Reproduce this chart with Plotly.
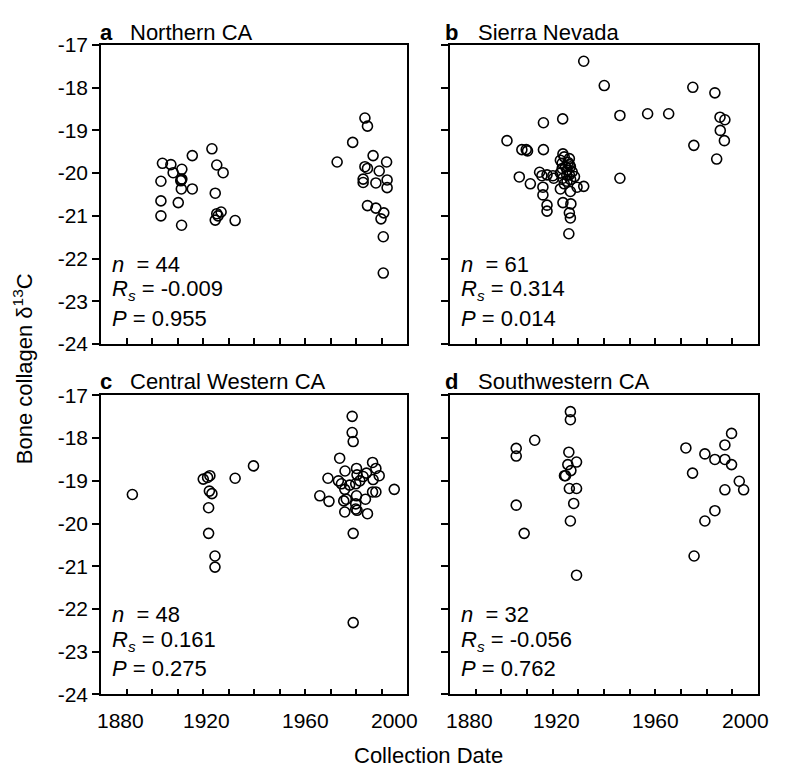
import plotly.graph_objects as go

# ---------------- data ----------------
years_a = [1904.1, 1907.4, 1908.3, 1911.7, 1911.7, 1911.3, 1911.5, 1915.8, 1915.8, 1903.5,
           1903.5, 1910.3, 1903.5, 1911.6, 1923.5, 1925.4, 1927.9, 1924.8, 1924.8, 1927.1,
           1925.4, 1932.6, 1911.4, 1925.9,
           1983.5, 1984.5, 1978.7, 1972.6, 1986.7, 1992.0, 1983.5, 1984.5, 1989.1, 1982.8,
           1982.8, 1987.8, 1992.2, 1992.2, 1984.5, 1987.8, 1990.9, 1989.8, 1990.7, 1990.7]
d13c_a = [-19.77, -19.80, -19.99, -19.91, -20.14, -20.18, -20.37, -19.59, -20.37, -20.19,
          -20.65, -20.69, -21.00, -21.22, -19.43, -19.81, -19.99, -20.47, -21.10, -20.91,
          -20.95, -21.11, -20.16, -21.00,
          -18.71, -18.90, -19.28, -19.74, -19.59, -19.74, -19.85, -19.89, -19.95, -20.14,
          -20.22, -20.23, -20.16, -20.34, -20.76, -20.82, -20.93, -21.07, -21.49, -22.34]

years_b = [1932.1, 1940.1, 1946.2, 1957.0, 1965.2, 1974.6, 1983.2, 1985.2, 1987.1, 1985.3,
           1986.9, 1975.0, 1983.9, 1946.2, 1902.2, 1916.4, 1923.9, 1908.0, 1909.7, 1910.2,
           1916.4, 1907.0, 1911.3, 1914.9, 1915.8, 1917.8, 1920.1, 1920.4, 1916.2, 1916.2,
           1917.8, 1917.8,
           1924.0, 1926.5, 1923.0, 1923.7, 1926.5, 1926.9, 1923.7, 1925.6, 1927.6, 1923.0,
           1926.5, 1928.5, 1924.0, 1925.6, 1929.5, 1932.1, 1923.0, 1926.9, 1924.0, 1927.1,
           1926.5, 1926.9, 1926.3, 1924.5, 1926.0, 1925.0, 1927.0, 1924.5, 1925.5]
d13c_b = [-17.38, -17.95, -18.65, -18.61, -18.61, -17.99, -18.12, -18.69, -18.75, -19.00,
          -19.24, -19.35, -19.67, -20.12, -19.24, -18.82, -18.73, -19.45, -19.45, -19.48,
          -19.45, -20.09, -20.25, -19.98, -20.06, -20.04, -20.06, -20.12, -20.33, -20.51,
          -20.75, -20.89,
          -19.55, -19.66, -19.70, -19.77, -19.80, -19.85, -19.89, -19.93, -19.97, -20.00,
          -20.04, -20.08, -20.12, -20.19, -20.33, -20.31, -20.37, -20.43, -20.69, -20.72,
          -20.93, -21.05, -21.42, -19.62, -19.75, -19.85, -20.15, -20.25, -20.05]

years_c = [1892.3, 1920.1, 1921.8, 1922.7, 1922.5, 1923.5, 1922.2, 1922.2, 1924.7, 1924.7,
           1932.6, 1939.8,
           1978.5, 1978.5, 1978.9, 1973.6, 1969.0, 1965.8, 1969.4, 1975.7, 1980.2, 1984.1,
           1986.5, 1987.8, 1989.1, 1986.7, 1973.1, 1974.3, 1975.6, 1979.9, 1982.8, 1980.4,
           1986.5, 1987.8, 1975.2, 1976.2, 1980.2, 1983.7, 1979.9, 1975.6, 1979.9, 1980.4,
           1984.5, 1995.0, 1978.9, 1978.9, 1977.5, 1981.5]
d13c_c = [-19.32, -18.96, -18.92, -18.88, -19.24, -19.30, -19.63, -20.23, -20.76, -21.02,
          -18.94, -18.65,
          -17.49, -17.87, -18.08, -18.47, -18.94, -19.35, -19.48, -18.77, -18.71, -18.82,
          -18.57, -18.71, -18.88, -18.97, -19.00, -19.07, -19.20, -19.07, -18.90, -18.86,
          -19.26, -19.26, -19.47, -19.43, -19.35, -19.43, -19.54, -19.73, -19.66, -19.69,
          -19.77, -19.20, -20.23, -22.32, -19.10, -19.00]

years_d = [1905.8, 1905.8, 1913.0, 1905.8, 1908.9,
           1926.9, 1926.9, 1926.3, 1925.9, 1929.3, 1927.1, 1925.0, 1924.6, 1926.5, 1929.3,
           1928.2, 1926.9, 1929.3,
           1971.9, 1979.3, 1983.2, 1987.1, 1987.1, 1989.7, 1989.7, 1974.5, 1992.7, 1994.4,
           1987.1, 1983.2, 1979.3, 1975.1]
d13c_d = [-18.24, -18.42, -18.05, -19.57, -20.23,
          -17.38, -17.57, -18.33, -18.62, -18.56, -18.76, -18.88, -18.88, -19.18, -19.18,
          -19.53, -19.94, -21.21,
          -18.23, -18.37, -18.50, -18.50, -18.16, -17.89, -18.62, -18.82, -19.01, -19.21,
          -19.21, -19.70, -19.94, -20.76]

panel_letters = ["a", "b", "c", "d"]
panel_names = ["Northern CA", "Sierra Nevada", "Central Western CA", "Southwestern CA"]
n_values = ["44", "61", "48", "32"]
rs_values = ["-0.009", "0.314", "0.161", "-0.056"]
p_values = ["0.955", "0.014", "0.275", "0.762"]
x_tick_labels = ["1880", "1920", "1960", "2000"]
x_ticks = [1880, 1890, 1900, 1910, 1920, 1930, 1940, 1950, 1960, 1970, 1980, 1990, 2000]
y_tick_values = [-17, -18, -19, -20, -21, -22, -23, -24]
y_tick_labels = ["-17", "-18", "-19", "-20", "-21", "-22", "-23", "-24"]

# ---------------- style ----------------
W, H = 786, 784
FONT = "Liberation Sans, Arial, Helvetica, sans-serif"
FS = 21
# label positions: in the reference the year labels sit slightly inward of their ticks
x_label_pos = [1887.5, 1921.5, 1960.0, 1995.0]

def px_x(p):
    return p / W

def px_y(p):
    return 1 - p / H

dom_x = [[px_x(101), px_x(407)], [px_x(450), px_x(758)]]
dom_y = [[px_y(342), px_y(34)], [px_y(703), px_y(395)]]

series = [(years_a, d13c_a), (years_b, d13c_b), (years_c, d13c_c), (years_d, d13c_d)]

fig = go.Figure()
layout = dict(
    width=W, height=H,
    margin=dict(l=0, r=0, t=0, b=0),
    paper_bgcolor="white", plot_bgcolor="white",
    showlegend=False,
    font=dict(family=FONT, size=FS, color="black"),
)

annotations = []
for i in range(4):
    row, col = divmod(i, 2)
    sx = "" if i == 0 else str(i + 1)
    xs, ys = series[i]
    fig.add_trace(go.Scatter(
        x=xs, y=ys, mode="markers", xaxis="x" + sx, yaxis="y" + sx,
        marker=dict(symbol="circle-open", size=10, color="black", line=dict(width=1.6, color="black")),
        hoverinfo="x+y",
    ))
    layout["xaxis" + sx] = dict(
        domain=dom_x[col], anchor="y" + sx, range=[1880, 2000],
        showline=True, linecolor="black", linewidth=1.6, mirror=True,
        showgrid=False, zeroline=False,
        tickmode="array", tickvals=x_ticks,
        ticks="inside", ticklen=6, tickwidth=2, tickcolor="black",
        showticklabels=False,
    )
    layout["yaxis" + sx] = dict(
        domain=dom_y[row], anchor="x" + sx, range=[-24, -17],
        showline=True, linecolor="black", linewidth=1.6, mirror=True,
        showgrid=False, zeroline=False,
        tickmode="array", tickvals=y_tick_values, ticktext=y_tick_labels,
        ticks="outside", ticklen=7, tickwidth=2, tickcolor="black",
        showticklabels=(col == 0), ticklabelstandoff=0,
        tickfont=dict(family=FONT, size=FS, color="black"),
    )
    # panel title
    left_px = [98, 443][col]
    name_px = [128, 476][col]
    title_y = [21, 381][row]
    annotations.append(dict(text="<b>" + panel_letters[i] + "</b>", xref="paper", yref="paper",
                            x=px_x(left_px), y=px_y(title_y), xanchor="left", yanchor="middle",
                            showarrow=False, font=dict(family=FONT, size=22, color="black")))
    annotations.append(dict(text=panel_names[i], xref="paper", yref="paper",
                            x=px_x(name_px), y=px_y(title_y), xanchor="left", yanchor="middle",
                            showarrow=False, font=dict(family=FONT, size=22, color="black")))
    # statistics
    stats = ["<i>n</i>  = " + n_values[i],
             "<i>R<sub>s</sub></i> = " + rs_values[i],
             "<i>P</i> = " + p_values[i]]
    for txt, yy in zip(stats, [0.267, 0.179, 0.085]):
        annotations.append(dict(text=txt, xref="x" + sx + " domain", yref="y" + sx + " domain",
                                x=0.03, y=yy, xanchor="left", yanchor="middle", showarrow=False,
                                font=dict(family=FONT, size=22, color="black")))
    # year labels under the bottom panels
    if row == 1:
        for pos, lab in zip(x_label_pos, x_tick_labels):
            annotations.append(dict(text=lab, xref="x" + sx, yref="y" + sx + " domain",
                                    x=pos, y=-0.088, xanchor="center", yanchor="middle",
                                    showarrow=False, font=dict(family=FONT, size=FS, color="black")))

annotations.append(dict(text="Bone collagen δ<sup>13</sup>C", xref="paper", yref="paper",
                        x=px_x(23), y=px_y(368), xanchor="center", yanchor="middle",
                        textangle=-90, showarrow=False,
                        font=dict(family=FONT, size=22, color="black")))
annotations.append(dict(text="Collection Date", xref="paper", yref="paper",
                        x=px_x(428), y=px_y(766), xanchor="center", yanchor="middle",
                        showarrow=False, font=dict(family=FONT, size=22, color="black")))

layout["annotations"] = annotations
fig.update_layout(**layout)
fig.write_html("out.html")
